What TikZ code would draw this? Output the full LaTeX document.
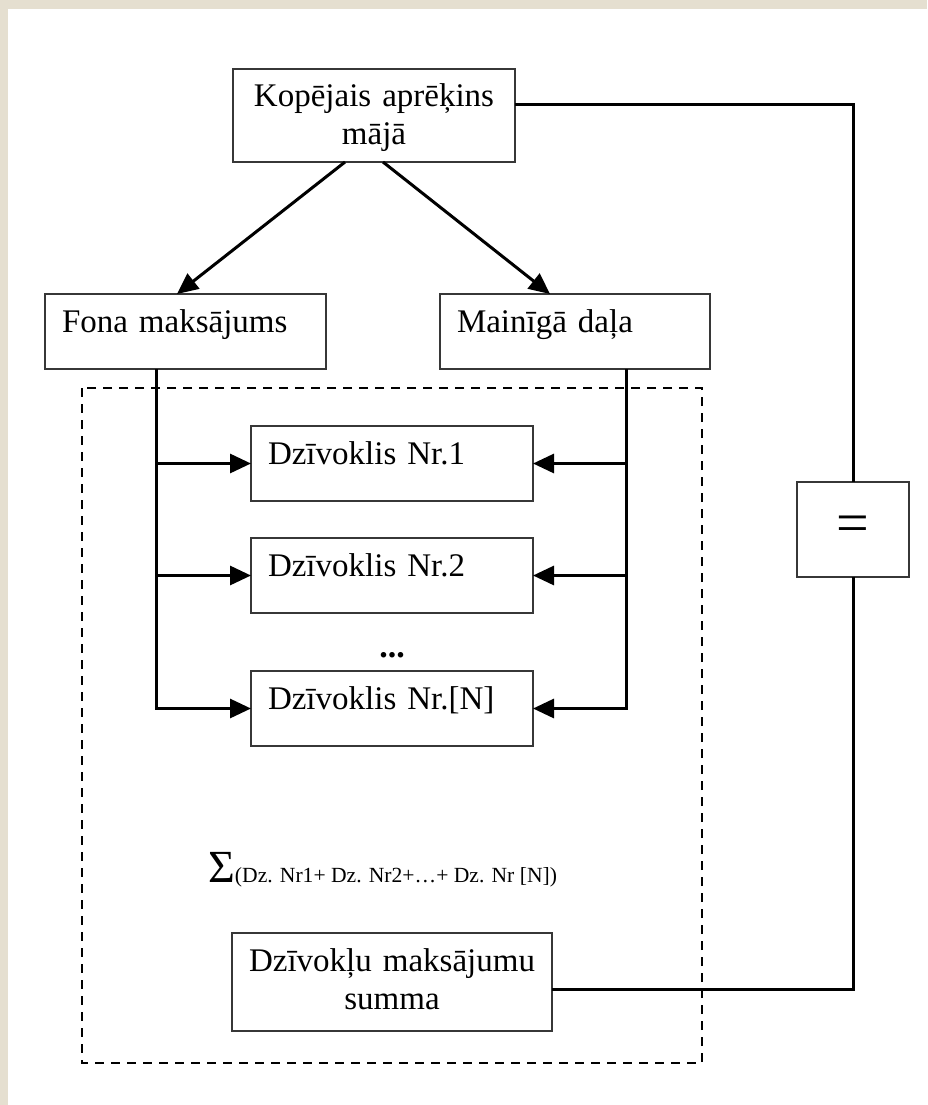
\documentclass[tikz,border=0pt]{standalone}
\usepackage{fontspec}
\setmainfont{Liberation Serif}
\usetikzlibrary{positioning, arrows.meta}
\definecolor{paper}{RGB}{229,223,208}
\definecolor{boxline}{RGB}{55,55,55}

\begin{document}
\begin{tikzpicture}[x=1pt, y=-1pt, >={Triangle[length=21pt, width=19pt]},
	box/.style={draw=boxline, line width=1.8pt, rectangle, outer sep=0pt, inner ysep=0pt, anchor=north west, font=\fontsize{33}{38}\selectfont, text height=38pt},
	flatbox/.style={box, inner xsep=17pt, align=left, text depth=37pt},
	eqbox/.style={draw=boxline, line width=1.8pt, outer sep=0pt, minimum width=112pt, minimum height=95pt, font=\fontsize{58}{58}\selectfont},
	conn/.style={line width=3pt, black},
	frame/.style={line width=2.8pt, dash pattern=on 9pt off 7pt}]
			% background
			\fill[paper] (0,0) rectangle (927,1105);
			\fill[white] (8,9) rectangle (927,1105);
			\useasboundingbox (0,0) rectangle (927,1105);
			\draw[frame] (82,388) rectangle (702,1063);

			\node[box, align=center, text width=272pt, inner xsep=5pt, text depth=55pt] (top) at (233,69) {Kopējais aprēķins\\mājā};
			\node[flatbox, text width=247pt] (fona) at (45,294) {Fona maksājums};
			\node[flatbox, text width=236pt] (maina) at (440,294) {Mainīgā daļa};
			\node[flatbox, text width=248pt] (dz1) at (251,426) {Dzīvoklis Nr.1};
			\node[flatbox, text width=248pt] (dz2) [below=37pt of dz1] {Dzīvoklis Nr.2};
			\node[flatbox, text width=248pt] (dzN) [below=58pt of dz2] {Dzīvoklis Nr.[N]};
			\node[font=\fontsize{34}{38}\selectfont\bfseries] (dots) at (392,655) {...};
			\node[anchor=base west, inner sep=0pt] (sum) at (208,882) {\fontsize{46}{46}\selectfont Σ\fontsize{21.6}{26}\selectfont (Dz. Nr1+ Dz. Nr2+…+ Dz. Nr [N])};
			\node[box, align=center, text width=310pt, inner xsep=5pt, text depth=60pt] (summa) at (232,933) {Dzīvokļu maksājumu\\summa};
			\node[eqbox] (eq) at (853,529.5) {=};

			\path[conn, ->]
			([xshift=-29pt]top.south) edge ([xshift=-8.5pt]fona.north)
			([xshift=9pt]top.south) edge ([xshift=-25pt]maina.north);

			% trunks to the flats
			\coordinate (ltrunk) at ([xshift=-29.5pt]fona.south);
			\coordinate (rtrunk) at ([xshift=51pt]maina.south);
			\draw[conn, ->] (ltrunk) |- (dzN.west);
			\draw[conn, ->] (rtrunk) |- (dzN.east);
			\path[conn, ->]
			(ltrunk |- dz1.west) edge (dz1.west)
			(ltrunk |- dz2.west) edge (dz2.west)
			(rtrunk |- dz1.east) edge (dz1.east)
			(rtrunk |- dz2.east) edge (dz2.east);

			\draw[conn] ([yshift=10.5pt]top.east) -| (eq.north);
			\draw[conn] (eq.south) |- ([yshift=-7pt]summa.east);
		\end{tikzpicture}
\end{document}
